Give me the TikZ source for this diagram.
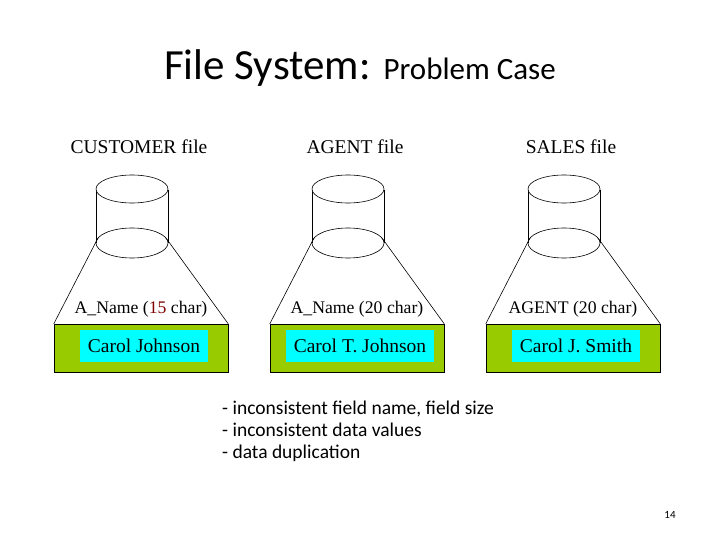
\documentclass[tikz,border=0pt]{standalone}
\usepackage{fontspec}
\setmainfont{Liberation Serif}
\newfontfamily\calfont{Carlito}
\definecolor{grn}{RGB}{153,204,0}
\definecolor{cyn}{RGB}{0,255,255}
\definecolor{dred}{RGB}{128,0,0}
\begin{document}
\begin{tikzpicture}[x=1pt,y=-1pt,
 rec/.style={draw,fill=grn,minimum width=174pt,minimum height=48pt,inner sep=0pt},
 val/.style={fill=cyn,minimum height=32pt,inner sep=8pt,font=\fontsize{19.5}{22}\selectfont},
 lab/.style={font=\fontsize{19.5}{22}\selectfont,inner sep=0pt},
 fld/.style={font=\fontsize{17.7}{20}\selectfont,inner sep=0pt},
 ln/.style={draw,line width=0.6pt}]
\useasboundingbox (0,0) rectangle (720,540);
\node[font=\calfont\fontsize{43}{46}\selectfont] (title) at (360,68) {File System: {\fontsize{31}{34}\selectfont Problem Case}};
\foreach \i/\cx/\hd/\fl/\vl in {1/141/CUSTOMER file/{A\_Name ({\color{dred}15} char)}/Carol Johnson, 2/357/AGENT file/{A\_Name (20 char)}/Carol T. Johnson, 3/573/SALES file/{AGENT (20 char)}/Carol J. Smith}{
 \node[lab] (h\i) at (\cx-2,147) {\hd};
 \draw[ln] (\cx-45,190) -- (\cx-45,243);
 \draw[ln] (\cx+27,190) -- (\cx+27,243);
 \draw[ln,fill=white] (\cx-9,189) ellipse [x radius=36pt,y radius=14pt];
 \node[rec] (r\i) at (\cx,348) {};
 \draw[ln] (\cx-43,238) -- (r\i.north west);
 \draw[ln] (\cx+25,238) -- (r\i.north east);
 \draw[ln] (\cx-9,243) ellipse [x radius=36pt,y radius=15pt];
 \node[fld] (f\i) at (\cx,309) {\fl};
 \node[val] (v\i) at (\cx+3,346) {\vl};
}
\node[align=left,anchor=north west,font=\calfont\fontsize{19.5}{22}\selectfont,inner sep=0pt] (notes) at (222,401)
 {- inconsistent field name, field size\\- inconsistent data values\\- data duplication};
\node[font=\calfont\fontsize{11}{13}\selectfont] (pg) at (670,515) {14};
\end{tikzpicture}
\end{document}
